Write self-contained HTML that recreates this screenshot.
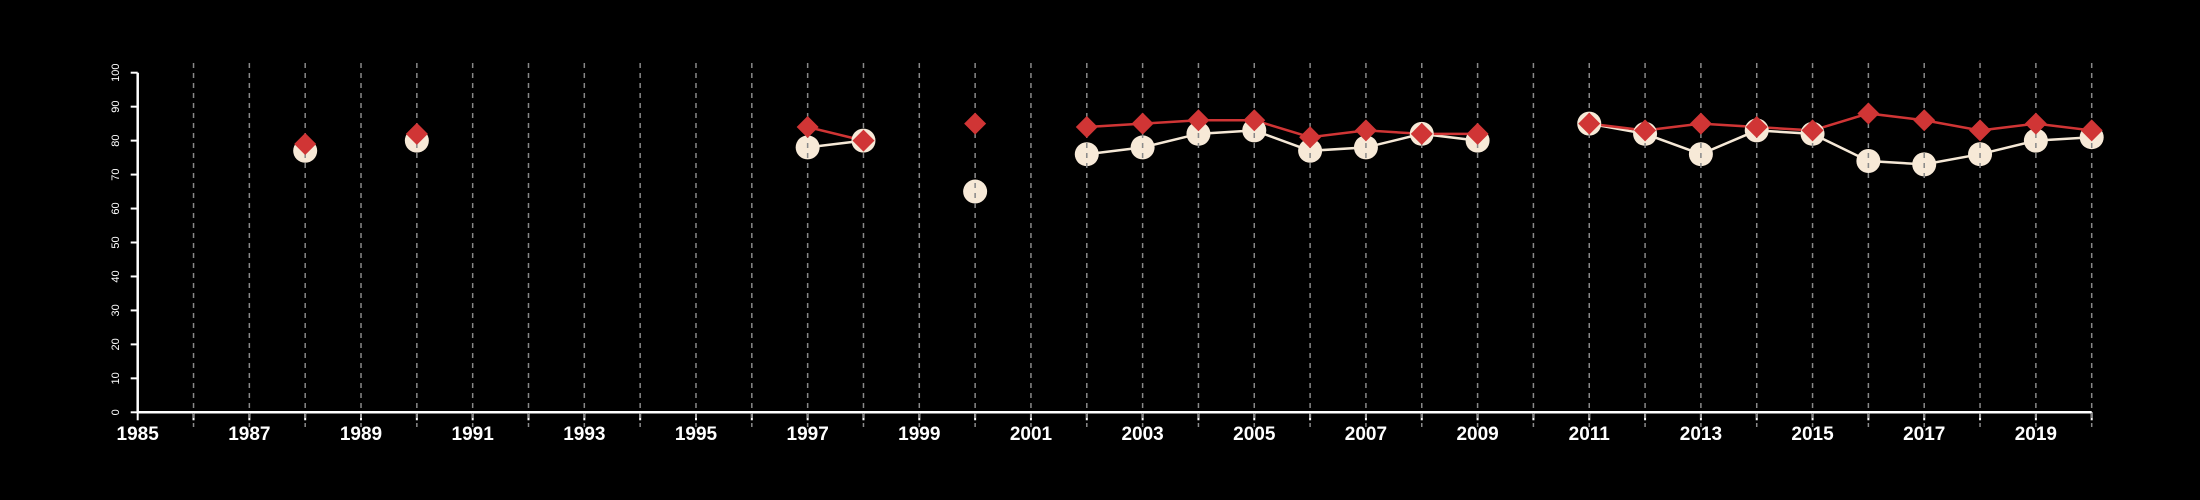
<!DOCTYPE html>
<html><head><meta charset="utf-8"><style>
html,body{margin:0;padding:0;background:#000;}
svg{display:block;}
text{font-family:"Liberation Sans",sans-serif;fill:#fff;}
</style></head><body>
<svg id="chart" width="2200" height="500" viewBox="0 0 2200 500" xmlns="http://www.w3.org/2000/svg">
<rect width="2200" height="500" fill="#000"/>
<g id="grid"></g>
<g id="axes"></g>
<g id="series"></g>
</svg>
<script>
const years = [1988,1990,1997,1998,2000,2002,2003,2004,2005,2006,2007,2008,2009,2011,2012,2013,2014,2015,2016,2017,2018,2019,2020];
const redValues = [79,82,84,80,85,84,85,86,86,81,83,82,82,85,83,85,84,83,88,86,83,85,83];
const whiteValues = [77,80,78,80,65,76,78,82,83,77,78,82,80,85,82,76,83,82,74,73,76,80,81];
const yTicks = [0,10,20,30,40,50,60,70,80,90,100];
const xLabelYears = [1985,1987,1989,1991,1993,1995,1997,1999,2001,2003,2005,2007,2009,2011,2013,2015,2017,2019];
const xMin = 1985, xMax = 2020;

const NS = "http://www.w3.org/2000/svg";
const X0 = 137.7, X1 = 2091.7, Y0 = 412.3, Y1 = 72.7;
const xs = v => X0 + (v - xMin) / (xMax - xMin) * (X1 - X0);
const ys = v => Y0 + v / 100 * (Y1 - Y0);
function mk(tag, parent, attrs){const e=document.createElementNS(NS,tag);for(const k in attrs)e.setAttribute(k,attrs[k]);parent.appendChild(e);return e;}
const grid=document.getElementById('grid'), axes=document.getElementById('axes'), series=document.getElementById('series');

// axes
let a = mk('line',axes,{x1:X0,y1:Y0,x2:X1,y2:Y0,stroke:'#fff','stroke-width':2.5});


a = mk('line',axes,{x1:X0,y1:Y0,x2:X0,y2:Y1,stroke:'#fff','stroke-width':2.5});


yTicks.forEach(t=>{
  const y=ys(t);
  const tk=mk('line',axes,{x1:X0-7,y1:y,x2:X0,y2:y,stroke:'#fff','stroke-width':2});
  
  
  const tx=mk('text',axes,{x:0,y:0,'font-size':11,'text-anchor':'middle',transform:`translate(119,${y}) rotate(-90)`});
  tx.textContent=t;
  
  
});
for(let yr=xMin; yr<=xMax; yr++){
  const x=xs(yr);
  const tk=mk('line',axes,{x1:x,y1:Y0,x2:x,y2:Y0+8,stroke:'#fff','stroke-width':2});
  
  
}
xLabelYears.forEach(yr=>{
  const tx=mk('text',axes,{x:xs(yr),y:440,'font-size':19,'font-weight':'bold','text-anchor':'middle'});
  tx.textContent=yr;
  
  
});

function segs(vals){
  const out=[];let cur=[];
  years.forEach((yr,i)=>{
    if(i>0 && yr-years[i-1]!==1){ if(cur.length>1)out.push(cur); cur=[]; }
    cur.push([xs(yr),ys(vals[i])]);
  });
  if(cur.length>1)out.push(cur);
  return out;
}
segs(whiteValues).forEach(s=>{
  const p=mk('polyline',series,{points:s.map(q=>q.join(',')).join(' '),fill:'none',stroke:'#f5e8d6','stroke-width':2.5});
  
  
});
segs(redValues).forEach(s=>{
  const p=mk('polyline',series,{points:s.map(q=>q.join(',')).join(' '),fill:'none',stroke:'#d03535','stroke-width':2.5});
  
  
});
years.forEach((yr,i)=>{
  const c=mk('circle',series,{cx:xs(yr),cy:ys(whiteValues[i]),r:12,fill:'#f7e9d7'});
  
  
});
// grid over circles
for(let yr=xMin+1; yr<=xMax; yr++){
  const x=xs(yr);
  const g=mk('line',series,{x1:x,y1:63,x2:x,y2:427,stroke:'#888','stroke-width':1.5,'stroke-dasharray':'5,5'});
  
  
}
years.forEach((yr,i)=>{
  const x=xs(yr), y=ys(redValues[i]), h=11;
  const d=mk('polygon',series,{points:`${x},${y-h} ${x+h},${y} ${x},${y+h} ${x-h},${y}`,fill:'#d03535'});
  
  
});
</script>
</body></html>
